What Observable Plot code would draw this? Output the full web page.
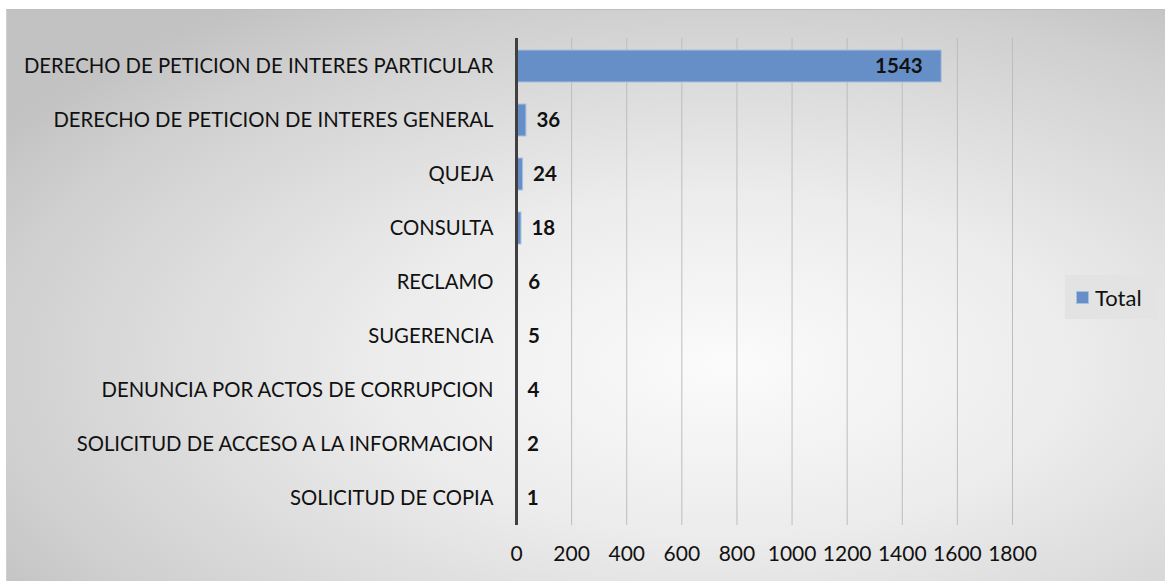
<!DOCTYPE html>
<html><head><meta charset="utf-8">
<script src="https://cdn.jsdelivr.net/npm/d3@7"></script>
<script src="https://cdn.jsdelivr.net/npm/@observablehq/plot@0.6"></script>
<style>
html,body{margin:0;padding:0;background:#fff;}
#wrap{position:relative;width:1165px;height:581px;overflow:hidden;font-family:Lato,"Open Sans",sans-serif;}
#bg{position:absolute;left:6px;top:9px;width:1159px;height:572px;border-top:1px solid #bdbdbd;border-left:1px solid #d0d0d0;
background:radial-gradient(ellipse 75% 75% at 62% 62%, #fbfbfb 0%, #ececec 40%, #cfcfcf 85%, #c2c2c2 100%);}
#chart{position:absolute;left:0;top:0;}
#legend{position:absolute;left:1065px;top:275px;width:92px;height:44px;background:#e3e3e3;display:flex;align-items:center;font-size:22px;color:#111;}
#legend span.sw{display:inline-block;width:11px;height:11px;background:#658fc6;border:1px solid #a9c1e0;margin-left:11px;margin-right:6px;}
</style></head>
<body>
<div id="wrap"><div id="bg"></div><div id="chart"></div>
<div id="legend"><span class="sw"></span>Total</div></div>
<script>
const categories = ["DERECHO DE PETICION DE INTERES PARTICULAR","DERECHO DE PETICION DE INTERES GENERAL","QUEJA","CONSULTA","RECLAMO","SUGERENCIA","DENUNCIA POR ACTOS DE CORRUPCION","SOLICITUD DE ACCESO A LA INFORMACION","SOLICITUD DE COPIA"];
const values = [1543,36,24,18,6,5,4,2,1];
const xTicks = [0,200,400,600,800,1000,1200,1400,1600,1800];
const data = categories.map((c,i)=>({cat:c, val:values[i]}));
const big = data.filter(d=>d.val>=1000);
const small = data.filter(d=>d.val<1000);
const chart = Plot.plot({
  width:1165, height:581,
  marginLeft:516, marginRight:153, marginTop:38, marginBottom:56,
  style:{background:"transparent", fontFamily:"Lato, 'Open Sans', sans-serif", color:"#111"},
  x:{domain:[0,1800], ticks:xTicks},
  y:{domain:categories, paddingInner:0.41, paddingOuter:0.205},
  marks:[
    Plot.gridX(xTicks.filter(t=>t>0), {stroke:"#bdbdbd", strokeOpacity:1, strokeWidth:1}),
    Plot.barX(data,{x:"val", y:"cat", fill:"#658fc6", stroke:"#a9c1e0", strokeWidth:1}),
    Plot.ruleX([0],{stroke:"#404040", strokeWidth:3}),
    Plot.text(small,{x:"val", y:"cat", text:d=>String(d.val), dx:10, textAnchor:"start", fontWeight:"bold", fontSize:20.5, fill:"#111"}),
    Plot.text(big,{x:"val", y:"cat", text:d=>String(d.val), dx:-19, textAnchor:"end", fontWeight:"bold", fontSize:20.5, fill:"#111"}),
    Plot.axisX({ticks:xTicks, tickSize:0, tickPadding:21, fontSize:21, label:null, tickFormat:d=>String(d)}),
    Plot.axisY({tickSize:0, tickPadding:23, fontSize:20.3, label:null})
  ]
});
document.getElementById("chart").appendChild(chart);
</script>
</body></html>
